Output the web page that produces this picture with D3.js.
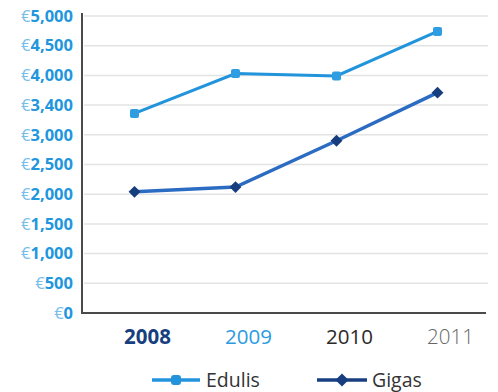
<!DOCTYPE html>
<meta charset="utf-8">
<script src="https://d3js.org/d3.v7.min.js"></script>
<style>
  body { margin: 0; background: #fff; }
  text { font-family: "Open Sans", "Noto Sans", sans-serif; }
</style>
<div id="chart"></div>
<script>

// data
var years = ["2008", "2009", "2010", "2011"];
var edulis = [3360, 4030, 3990, 4740];
var gigas = [2040, 2120, 2900, 3710];
var yTicks = [0, 500, 1000, 1500, 2000, 2500, 3000, 3500, 4000, 4500, 5000];
var yTickLabels = ["0", "500", "1,000", "1,500", "2,000", "2,500", "3,000", "3,400", "4,000", "4,500", "5,000"];
var yearColors = ["#173f80", "#2b9be0", "#2a2a2a", "#666666"];
var yearWeights = ["bold", "normal", "normal", "300"];

var width = 498, height = 392;

var svg = d3.select("#chart")
  .append("svg")
    .attr("width", width)
    .attr("height", height);

// scales
var x = d3.scaleBand()
  .domain(years)
  .range([84, 488]);

var y = d3.scaleLinear()
  .domain([0, 5000])
  .range([313, 16]);

// gridlines
svg.append("g")
  .selectAll("line")
  .data(yTicks.slice(1))
  .enter()
  .append("line")
    .attr("x1", 84)
    .attr("x2", 488)
    .attr("y1", function(d) { return y(d); })
    .attr("y2", function(d) { return y(d); })
    .attr("stroke", "#e3e3e3")
    .attr("stroke-width", 1.5);

// y axis
var yAxis = svg.append("g")
  .attr("transform", "translate(82,0)")
  .call(d3.axisLeft(y).tickValues(yTicks).tickSize(0).tickPadding(9)
    .tickFormat(function(d, i) { return yTickLabels[i]; }));
yAxis.select(".domain").remove();
yAxis.selectAll(".tick text")
  .attr("font-size", 16.5)
  .attr("font-weight", "bold")
  .attr("fill", "#2296dd")
  .text(null)
  .each(function(d, i) {
    var t = d3.select(this);
    t.append("tspan").attr("fill", "#74bdea").attr("font-weight", "normal").text("€");
    t.append("tspan").text(yTickLabels[i]);
  });

// axis lines
svg.append("line")
  .attr("x1", 82).attr("x2", 82)
  .attr("y1", 13).attr("y2", 314)
  .attr("stroke", "#4a4a4a").attr("stroke-width", 2);
svg.append("line")
  .attr("x1", 81).attr("x2", 486)
  .attr("y1", 313).attr("y2", 313)
  .attr("stroke", "#4a4a4a").attr("stroke-width", 2);

// x axis labels (sit a little right of the points in the original)
var xAxis = svg.append("g")
  .attr("transform", "translate(13,313)")
  .call(d3.axisBottom(x).tickSize(0).tickPadding(16));
xAxis.select(".domain").remove();
xAxis.selectAll(".tick text")
  .attr("font-size", 20.5)
  .attr("fill", function(d, i) { return yearColors[i]; })
  .attr("font-weight", function(d, i) { return yearWeights[i]; });

var cx = function(d, i) { return x(years[i]) + x.bandwidth() / 2; };

var line = d3.line()
  .x(cx)
  .y(function(d) { return y(d); });

// Edulis
svg.append("path")
  .datum(edulis)
  .attr("fill", "none")
  .attr("stroke", "#2294dc")
  .attr("stroke-width", 3)
  .attr("d", line);
svg.append("g")
  .selectAll("rect")
  .data(edulis)
  .enter()
  .append("rect")
    .attr("x", function(d, i) { return cx(d, i) - 4.5; })
    .attr("y", function(d) { return y(d) - 4.5; })
    .attr("width", 9)
    .attr("height", 9)
    .attr("rx", 2)
    .attr("fill", "#2f9de2");

// Gigas
svg.append("path")
  .datum(gigas)
  .attr("fill", "none")
  .attr("stroke", "#2b6cc2")
  .attr("stroke-width", 3.5)
  .attr("d", line);
svg.append("g")
  .selectAll("path")
  .data(gigas)
  .enter()
  .append("path")
    .attr("d", d3.symbol().type(d3.symbolDiamond2).size(90))
    .attr("transform", function(d, i) { return "translate(" + cx(d, i) + "," + y(d) + ")"; })
    .attr("fill", "#163d7d");

// legend
var legend = svg.append("g");
legend.append("line")
  .attr("x1", 152).attr("x2", 200).attr("y1", 380).attr("y2", 380)
  .attr("stroke", "#2294dc").attr("stroke-width", 3.5);
legend.append("rect")
  .attr("x", 171).attr("y", 375).attr("width", 10).attr("height", 10).attr("rx", 3)
  .attr("fill", "#2294dc");
legend.append("text")
  .attr("x", 206).attr("y", 387)
  .attr("font-size", 19.5).attr("fill", "#333")
  .text("Edulis");

legend.append("line")
  .attr("x1", 317).attr("x2", 367).attr("y1", 380).attr("y2", 380)
  .attr("stroke", "#173f80").attr("stroke-width", 3.5);
legend.append("path")
  .attr("d", d3.symbol().type(d3.symbolDiamond2).size(110))
  .attr("transform", "translate(342,380)")
  .attr("fill", "#173f80");
legend.append("text")
  .attr("x", 372).attr("y", 387)
  .attr("font-size", 19.5).attr("fill", "#333")
  .text("Gigas");

</script>
